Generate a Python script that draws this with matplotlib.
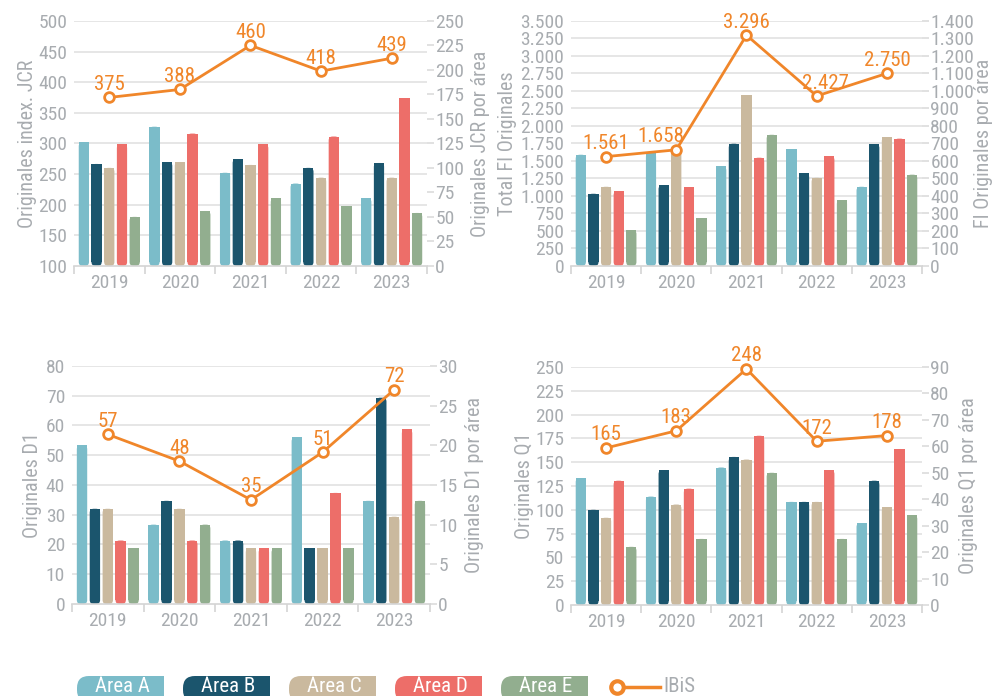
import numpy as np
import matplotlib.pyplot as plt
from matplotlib import font_manager
from matplotlib.lines import Line2D
from matplotlib.patches import FancyBboxPatch, Rectangle
from matplotlib.ticker import FuncFormatter
from matplotlib.transforms import blended_transform_factory

names = set(f.name for f in font_manager.fontManager.ttflist)
if 'Roboto Condensed' in names:
    fam, tk, lb = 'Roboto Condensed', 14, 14.5
else:
    fam, tk, lb = 'Roboto', 13, 14
plt.rcParams['font.family'] = [fam, 'DejaVu Sans']

years = ['2019', '2020', '2021', '2022', '2023']
areas = ['Área A', 'Área B', 'Área C', 'Área D', 'Área E']
colors = ['#7bbcc9', '#1b556d', '#cab99e', '#ed6e69', '#92ae8f']
orange = '#f0862a'
grey = '#a8acb0'
gridc = '#e2e2e2'

# totales (línea, eje izquierdo)
jcr_total = [375, 388, 460, 418, 439]
fi_total = [1561, 1658, 3296, 2427, 2750]
d1_total = [57, 48, 35, 51, 72]
q1_total = [165, 183, 248, 172, 178]

# por área (barras, eje derecho), una fila por área
jcr_area = [[126, 142, 95, 84, 69],
            [104, 106, 109, 100, 105],
            [100, 106, 103, 90, 90],
            [124, 135, 124, 132, 171],
            [50, 56, 69, 61, 54]]
fi_area = [[635, 645, 568, 667, 452],
           [412, 461, 698, 528, 696],
           [452, 654, 974, 503, 734],
           [427, 450, 618, 627, 727],
           [204, 271, 749, 376, 521]]
d1_area = [[20, 10, 8, 21, 13],
           [12, 13, 8, 7, 26],
           [12, 12, 7, 7, 11],
           [8, 8, 7, 14, 22],
           [7, 10, 7, 7, 13]]
q1_area = [[48, 41, 52, 39, 31],
           [36, 51, 56, 39, 47],
           [33, 38, 55, 39, 37],
           [47, 44, 64, 51, 59],
           [22, 25, 50, 25, 34]]

W, H = 993, 696


def miles(v, pos=None):
    return f"{v:,.0f}".replace(',', '.')


def panel(fig, rect, total, per_area, lticks, rticks, llabel, rlabel, labx, dxs=None):
    ax = fig.add_axes(rect)       # barras, eje derecho
    ax2 = ax.twinx()              # linea, eje izquierdo
    ax.yaxis.tick_right()
    ax.yaxis.set_label_position('right')
    ax2.yaxis.tick_left()
    ax2.yaxis.set_label_position('left')

    ax.set_xlim(-0.5, 4.5)
    ax.set_ylim(rticks[0], rticks[-1])
    ax2.set_ylim(lticks[0], lticks[-1])

    # barras con el pie redondeado
    rad = 0.055
    aspect = (rticks[-1] - rticks[0]) / (rect[3] * H) / (5.0 / (rect[2] * W))
    x = np.arange(len(years))
    for k in range(len(areas)):
        bars = ax.bar(x + (k - 2) * 0.18, per_area[k], width=0.145, color=colors[k], zorder=2)
        for r in bars:
            ry = rad * aspect
            ax.add_patch(FancyBboxPatch((r.get_x(), r.get_y()), r.get_width(), r.get_height(),
                                        boxstyle=f'round,pad=0,rounding_size={rad}',
                                        mutation_aspect=aspect, fc=colors[k], ec='none', zorder=2))
            r.set_y(r.get_y() + ry)
            r.set_height(r.get_height() - ry)

    ax.set_yticks(rticks)
    ax2.set_yticks(lticks)
    ax.yaxis.set_major_formatter(FuncFormatter(miles))
    ax2.yaxis.set_major_formatter(FuncFormatter(miles))

    tr = blended_transform_factory(ax.transAxes, ax2.transData)
    for v in lticks[1:]:
        ax.plot([0, 1], [v, v], transform=tr, color=gridc, lw=1.2, zorder=0)

    ax2.plot(x, total, color=orange, lw=2, marker='o', ms=7, mfc='white',
             mec=orange, mew=2, zorder=5, clip_on=False)
    if dxs is None:
        dxs = [0] * len(total)
    for i, v in enumerate(total):
        ax2.annotate(miles(v), (i, v), xytext=(dxs[i], 2.5), textcoords='offset points',
                     ha='center', va='bottom', color=orange, fontsize=tk + 1)

    ax.set_xticks(np.arange(-0.5, 5, 1))
    ax.set_xticklabels([])
    ax.set_xticks(x, minor=True)
    ax.set_xticklabels(years, minor=True)
    ax.tick_params(axis='x', which='major', length=6, color='#d4d4d4', width=1.2)
    ax.tick_params(axis='x', which='minor', length=0, pad=6, labelsize=tk, labelcolor=grey)
    ax.tick_params(axis='y', length=5, color='#dcdcdc', width=1.2, pad=1, labelsize=tk, labelcolor=grey)
    ax2.tick_params(axis='y', length=0, pad=5, labelsize=tk, labelcolor=grey)

    for a in (ax, ax2):
        for s in ('top', 'left', 'right'):
            a.spines[s].set_visible(False)
    ax2.spines['bottom'].set_visible(False)
    ax.spines['bottom'].set_color('#d4d4d4')
    ax.spines['bottom'].set_linewidth(1.2)

    ax2.set_ylabel(llabel, color=grey, fontsize=lb)
    ax.set_ylabel(rlabel, color=grey, fontsize=lb)
    ax2.yaxis.label.set_va('center')
    ax.yaxis.label.set_va('center')
    ax2.yaxis.set_label_coords(labx[0], 0.5)
    ax.yaxis.set_label_coords(labx[1], 0.5)
    return ax, ax2


fig = plt.figure(figsize=(W / 100, H / 100), dpi=100)

panel(fig, [0.0745, 0.618, 0.3555, 0.352], jcr_total, jcr_area,
      list(range(100, 501, 50)), list(range(0, 251, 25)),
      'Originales index. JCR', 'Originales JCR por área', (-0.133, 1.152))
panel(fig, [0.575, 0.618, 0.3535, 0.352], fi_total, fi_area,
      list(range(0, 3501, 250)), list(range(0, 1401, 100)),
      'Total FI Originales', 'FI Originales por área', (-0.18, 1.174),
      dxs=[0, -11, 0, 6, 0])
panel(fig, [0.0725, 0.1322, 0.3605, 0.342], d1_total, d1_area,
      list(range(0, 81, 10)), list(range(0, 31, 5)),
      'Originales D1', 'Originales D1 por área', (-0.109, 1.125))
panel(fig, [0.575, 0.1307, 0.3535, 0.342], q1_total, q1_area,
      list(range(0, 251, 25)), list(range(0, 91, 10)),
      'Originales Q1', 'Originales Q1 por área', (-0.131, 1.133))

# leyenda (cajas con el nombre dentro)
box_x = [77, 183, 289, 395, 501]
for k in range(len(areas)):
    x0 = box_x[k] / W
    fig.add_artist(FancyBboxPatch((x0, -6 / H), 87 / W, 26 / H, transform=fig.transFigure,
                                  boxstyle='round,pad=0,rounding_size=0.012',
                                  fc=colors[k], ec='none', mutation_aspect=W / H))
    fig.add_artist(Rectangle((x0 + 40 / W, -6 / H), 47 / W, 26 / H,
                             transform=fig.transFigure, fc=colors[k], ec='none'))
    fig.text(x0 + 45 / W, 4 / H, areas[k], color='white', fontsize=15,
             ha='center', va='baseline')
fig.add_artist(Line2D([617 / W, 660 / W], [9 / H, 9 / H], transform=fig.transFigure,
                      color=orange, lw=2.5))
fig.add_artist(Line2D([617 / W], [9 / H], transform=fig.transFigure, color=orange,
                      marker='o', ms=9, mfc='white', mec=orange, mew=3))
fig.text(663 / W, 4 / H, 'IBiS', color=grey, fontsize=15, ha='left', va='baseline')

fig.savefig('out.png', dpi=100)
